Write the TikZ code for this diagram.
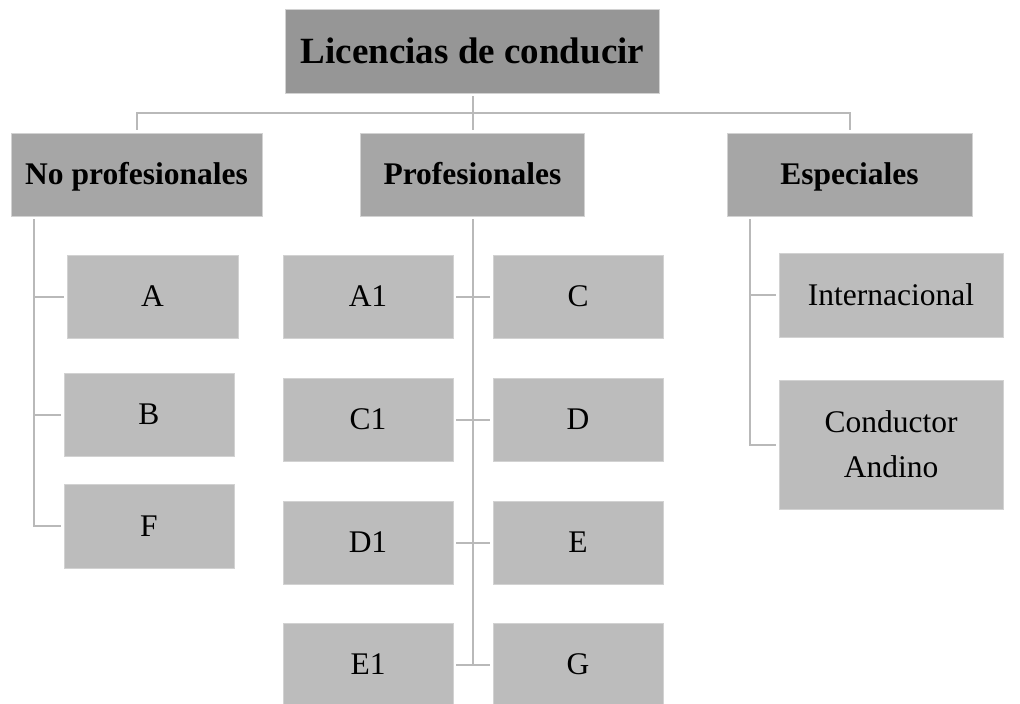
\documentclass[tikz,border=0pt]{standalone}
\usepackage{fontspec}
\setmainfont{Liberation Serif}
\definecolor{topgray}{HTML}{969696}
\definecolor{midgray}{HTML}{A6A6A6}
\definecolor{lowgray}{HTML}{BCBCBC}
\definecolor{linegray}{HTML}{B9B9B9}
\definecolor{edgegray}{HTML}{D2D2D2}
\begin{document}
\begin{tikzpicture}[x=1pt,y=-1pt,
  box/.style={rectangle, inner sep=0pt, draw=edgegray, line width=0.6pt, align=center},
  oneline/.style={text height=20.9pt, text depth=0pt},
  topbox/.style={box, fill=topgray, text height=24.5pt, text depth=0pt, font=\fontsize{37}{44}\selectfont\bfseries},
  midbox/.style={box, oneline, fill=midgray, minimum height=83pt, font=\fontsize{31.5}{45}\selectfont\bfseries},
  lowbox/.style={box, fill=lowgray, minimum width=170pt, minimum height=83pt, font=\fontsize{31.5}{45}\selectfont},
  conn/.style={draw=linegray, line width=2pt}]
\useasboundingbox (0,0) rectangle (1020,704);
\begin{scope}
\clip (0,0) rectangle (1020,704);
% top
\node[topbox, minimum width=374pt, minimum height=84pt] (top) at (472.5,51) {Licencias de conducir};
% level 2
\node[midbox, minimum width=251pt] (np) at (136.5,174.5) {No profesionales};
\node[midbox, minimum width=224pt] (prof) at (472.5,174.5) {Profesionales};
\node[midbox, minimum width=245pt] (esp) at (849.5,174.5) {Especiales};
% level 3 - no profesionales
\node[lowbox, oneline, minimum width=171pt] (A) at (152.5,296.5) {A};
\node[lowbox, oneline] (B) at (149,414.5) {B};
\node[lowbox, oneline, minimum height=84pt] (F) at (149,526) {F};
% level 3 - profesionales
\node[lowbox, oneline] (A1) at (368,296.5) {A1};
\node[lowbox, oneline] (C1) at (368,419.5) {C1};
\node[lowbox, oneline] (D1) at (368,542.5) {D1};
\node[lowbox, oneline] (E1) at (368,664.5) {E1};
\node[lowbox, oneline] (C) at (578,296.5) {C};
\node[lowbox, oneline] (D) at (578,419.5) {D};
\node[lowbox, oneline] (E) at (578,542.5) {E};
\node[lowbox, oneline] (G) at (578,664.5) {G};
% level 3 - especiales
\node[lowbox, oneline, minimum width=224pt, minimum height=84pt] (I) at (891,295) {Internacional};
\node[lowbox, minimum width=224pt, minimum height=129pt] (CA) at (891,444.5) {Conductor\\Andino};
% connectors top -> level 2
\coordinate (busL) at (136.5,113);
\coordinate (busR) at (849.5,113);
\draw[conn] ([yshift=-3pt]top.south) -- ([yshift=3pt]prof.north);
\draw[conn] ([yshift=3pt]np.north) -- (busL) -- (busR) -- ([yshift=3pt]esp.north);
% no profesionales
\coordinate (npv) at (34,219);
\draw[conn] (npv) |- ([xshift=-3pt]F.west);
\draw[conn] (npv |- A.west) -- ([xshift=-3pt]A.west);
\draw[conn] (npv |- B.west) -- ([xshift=-3pt]B.west);
% profesionales
\coordinate (pv) at (472.5,219);
\draw[conn] (pv) -- (pv |- E1.east);
\draw[conn] ([xshift=3pt]A1.east) -- ([xshift=-3pt]C.west);
\draw[conn] ([xshift=3pt]C1.east) -- ([xshift=-3pt]D.west);
\draw[conn] ([xshift=3pt]D1.east) -- ([xshift=-3pt]E.west);
\draw[conn] ([xshift=3pt]E1.east) -- ([xshift=-3pt]G.west);
% especiales
\coordinate (ev) at (750,219);
\draw[conn] (ev) |- ([xshift=-3pt]CA.west);
\draw[conn] (ev |- I.west) -- ([xshift=-3pt]I.west);
\end{scope}
\end{tikzpicture}
\end{document}
